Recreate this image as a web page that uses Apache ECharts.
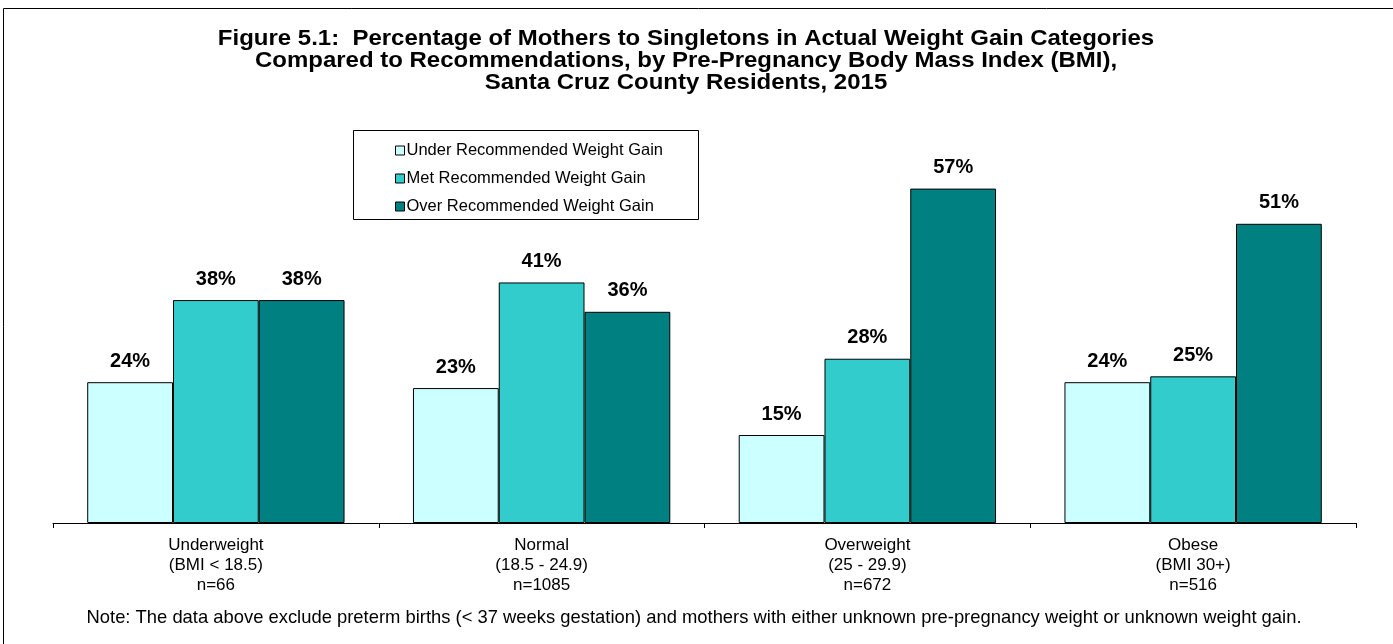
<!DOCTYPE html>
<html>
<head>
<meta charset="utf-8">
<title>Figure 5.1</title>
<script src="https://cdn.jsdelivr.net/npm/echarts@6/dist/echarts.min.js"></script>
<style>
  html, body { margin: 0; padding: 0; background: #fff; }
  #chart { width: 1393px; height: 644px; }
</style>
</head>
<body>
<div id="chart"></div>
<script>
// Data
const categories = [
    'Underweight\n(BMI < 18.5)\nn=66',
    'Normal\n(18.5 - 24.9)\nn=1085',
    'Overweight\n(25 - 29.9)\nn=672',
    'Obese\n(BMI 30+)\nn=516'
];
const seriesNames = [
    'Under Recommended Weight Gain',
    'Met Recommended Weight Gain',
    'Over Recommended Weight Gain'
];
const underValues = [24, 23, 15, 24];
const metValues = [38, 41, 28, 25];
const overValues = [38, 36, 57, 51];

const titleLines = [
    'Figure 5.1:  Percentage of Mothers to Singletons in Actual Weight Gain Categories',
    'Compared to Recommendations, by Pre-Pregnancy Body Mass Index (BMI),',
    'Santa Cruz County Residents, 2015'
];
const noteText = 'Note: The data above exclude preterm births (< 37 weeks gestation) and mothers with either unknown pre-pregnancy weight or unknown weight gain.';

const colors = ['#CCFFFF', '#33CCCC', '#008080'];
const font = '"Liberation Sans", Arial, sans-serif';

const chart = echarts.init(document.getElementById('chart'));

const makeSeries = (name, values, color) => ({
    name: name,
    type: 'bar',
    data: values,
    barGap: '0%',
    barCategoryGap: '21%',
    itemStyle: {
        color: color,
        borderColor: '#000',
        borderWidth: 1
    },
    label: {
        show: true,
        position: 'top',
        distance: 11,
        formatter: '{c}%',
        fontFamily: font,
        fontSize: 20,
        fontWeight: 'bold',
        color: '#000'
    },
    animation: false
});

const option = {
    backgroundColor: '#fff',
    textStyle: { fontFamily: font },
    color: colors,
    legend: {
        orient: 'vertical',
        left: 390,
        top: 137,
        itemWidth: 9,
        itemHeight: 9,
        itemGap: 11,
        icon: 'rect',
        data: seriesNames,
        itemStyle: { borderColor: '#000', borderWidth: 1 },
        textStyle: { fontFamily: font, fontSize: 16.5, color: '#000', padding: [0, 0, 0, -3] },
        selectedMode: false
    },
    grid: {
        left: 53,
        right: 37,
        top: 171,
        bottom: 121
    },
    xAxis: {
        type: 'category',
        data: categories,
        axisLine: { lineStyle: { color: '#000', width: 1 } },
        axisTick: { show: true, length: 5, lineStyle: { color: '#000' } },
        axisLabel: {
            margin: 12,
            fontFamily: font,
            fontSize: 17,
            lineHeight: 20,
            color: '#000',
            interval: 0
        }
    },
    yAxis: {
        type: 'value',
        min: 0,
        max: 60,
        show: false
    },
    series: [
        makeSeries(seriesNames[0], underValues, colors[0]),
        makeSeries(seriesNames[1], metValues, colors[1]),
        makeSeries(seriesNames[2], overValues, colors[2])
    ],
    graphic: [
        {
            type: 'rect',
            shape: { x: 3.5, y: 8.5, width: 1400, height: 700 },
            style: { fill: 'none', stroke: '#000', lineWidth: 1 },
            silent: true,
            z: -1
        },
        {
            type: 'rect',
            shape: { x: 353.5, y: 130.5, width: 345, height: 89 },
            style: { fill: '#fff', stroke: '#000', lineWidth: 1 },
            silent: true,
            z: 0
        },
        {
            // title is a little wider than the font, so stretch it
            type: 'text',
            x: 686,
            y: 61,
            scaleX: 1.09,
            style: {
                text: titleLines.join('\n'),
                fontFamily: font,
                fontSize: 22,
                fontWeight: 'bold',
                lineHeight: 22,
                fill: '#000',
                align: 'center',
                verticalAlign: 'middle'
            }
        },
        {
            type: 'text',
            x: 694,
            y: 618,
            style: {
                text: noteText,
                fontFamily: font,
                fontSize: 18.4,
                fill: '#000',
                align: 'center',
                verticalAlign: 'middle'
            }
        }
    ]
};

chart.setOption(option);

window.addEventListener('resize', () => chart.resize());
</script>
</body>
</html>
